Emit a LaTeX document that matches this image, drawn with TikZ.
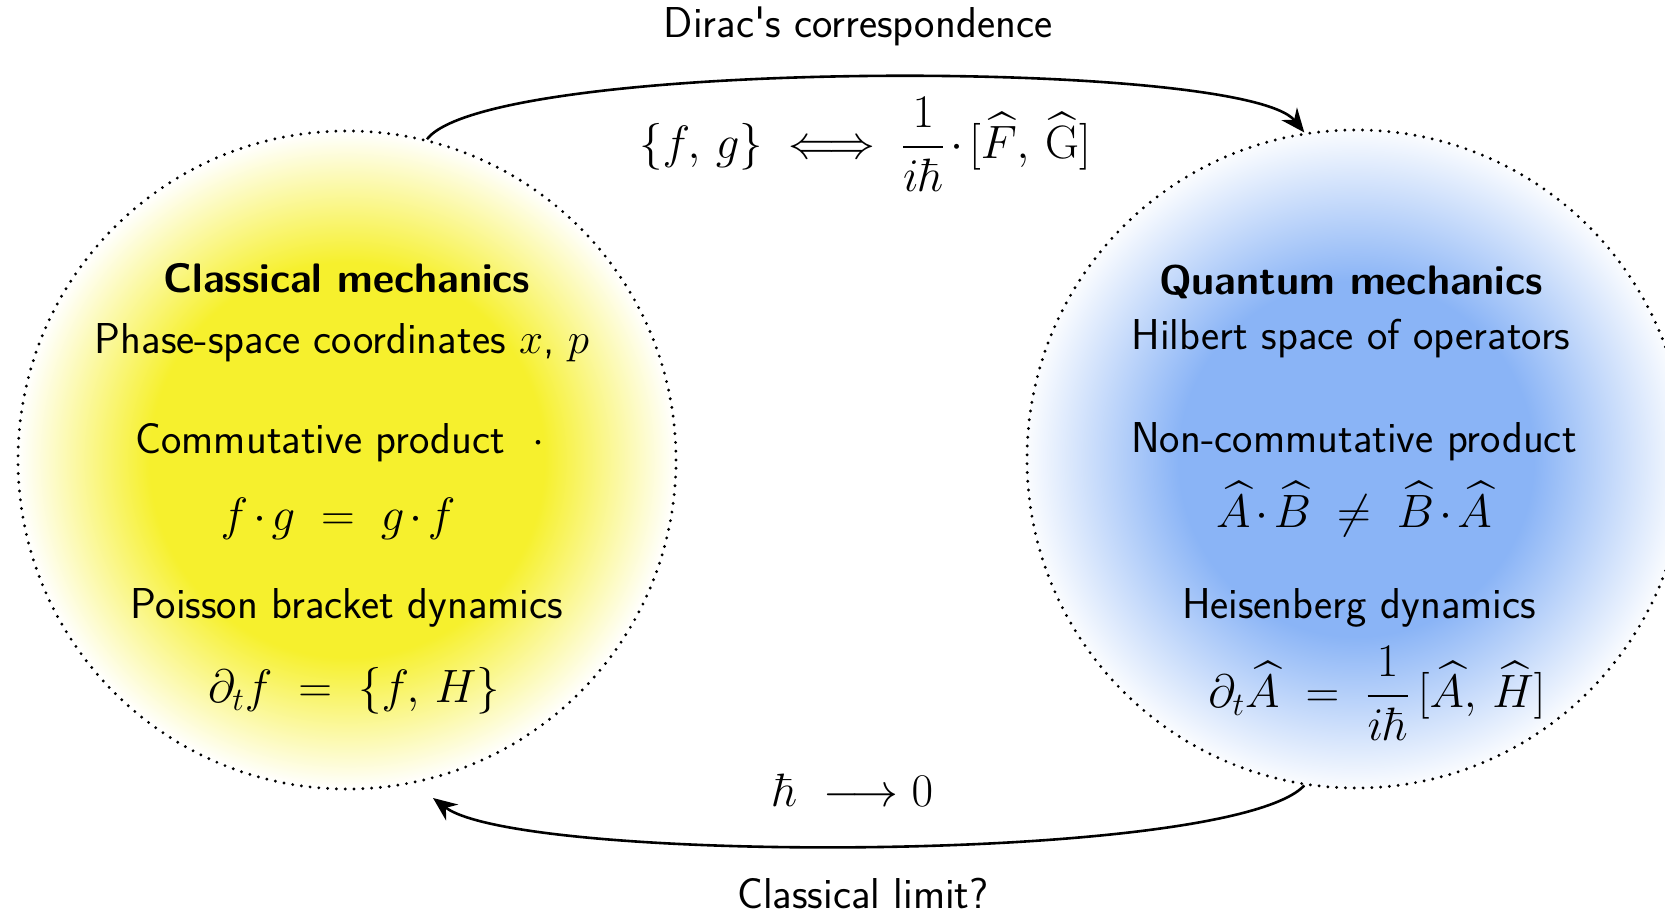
\RequirePackage{fix-cm}
\documentclass[tikz,border=0pt]{standalone}
\usepackage{amsmath}
\usetikzlibrary{arrows.meta}
\definecolor{yel}{RGB}{246,240,45}
\definecolor{blu}{RGB}{138,180,246}
\pgfdeclareradialshading{yelshade}{\pgfpointorigin}{color(0bp)=(yel); color(15bp)=(yel); color(25bp)=(white); color(50bp)=(white)}
\pgfdeclareradialshading{blushade}{\pgfpointorigin}{color(0bp)=(blu); color(13.5bp)=(blu); color(25.5bp)=(white); color(50bp)=(white)}
\newcommand{\tdot}{\mathbin{\mkern-2mu\cdot\mkern-2mu}}
\begin{document}
\begin{tikzpicture}[x=0.5pt,y=0.5pt,
  txt/.style={font=\sffamily\fontsize{21.6}{26}\selectfont, inner sep=0pt, anchor=base},
  ttl/.style={txt, font=\sffamily\bfseries\fontsize{20.6}{25}\selectfont},
  mth/.style={txt, font=\fontsize{23.4}{28}\selectfont},
  world/.style={circle, minimum size=329pt, inner sep=0pt, draw=black, line width=1.6pt, dash pattern=on 0pt off 4.4pt, line cap=round},
  arr/.style={-{Stealth[length=12pt,width=10pt]}, line width=1.3pt}]
\useasboundingbox (0,0) rectangle (1665,915);
\clip (0,0) rectangle (1665,915);
\node[world, shade, shading=yelshade] (L) at (347,455) {};
\node[world, shade, shading=blushade] (R) at (1356,456) {};
% left texts
\node[ttl] (lt) at (347,622) {Classical mechanics};
\node[txt] (l1) at (342,561) {Phase-space coordinates $x$, $p$};
\node[txt] (l2) at (340,461) {Commutative product \ $\cdot$};
\node[mth] (l3) at (338,384) {$f\tdot g \;=\; g\tdot f$};
\node[txt] (l4) at (347,296) {Poisson bracket dynamics};
\node[mth] (l5) at (354,212) {$\partial_t f \;=\; \{f,\, H\}$};
% right texts
\node[ttl] (rt) at (1351,620) {Quantum mechanics};
\node[txt] (r1) at (1351,565) {Hilbert space of operators};
\node[txt] (r2) at (1354,462) {Non-commutative product};
\node[mth] (r3) at (1354,387) {$\widehat{A}\tdot\widehat{B} \;\neq\; \widehat{B}\tdot\widehat{A}$};
\node[txt] (r4) at (1359,296) {Heisenberg dynamics};
\node[mth] (r5) at (1377,207) {$\partial_t\widehat{A} \;=\; \dfrac{1}{i\hbar}\,[\widehat{A},\,\widehat{H}]$};
% connectors
\draw[arr] (L.76) .. controls (490,857) and (1244,857) .. (R.99);
\node[txt] (dirac) at (858,877) {Dirac\textquotesingle s correspondence};
\node[mth] (corr) at (865,756) {$\{f,\, g\} \;\Longleftrightarrow\; \dfrac{1}{i\hbar}\tdot[\widehat{F},\,\widehat{\mathrm{G}}]$};
\coordinate (Lb) at (433,117);
\draw[arr] (R.261) .. controls (1230,51) and (520,51) .. (Lb);
\node[mth] (lim) at (853,108) {$\hbar\;\longrightarrow 0$};
\node[txt] (cl) at (863,6) {Classical limit?};
\end{tikzpicture}
\end{document}
